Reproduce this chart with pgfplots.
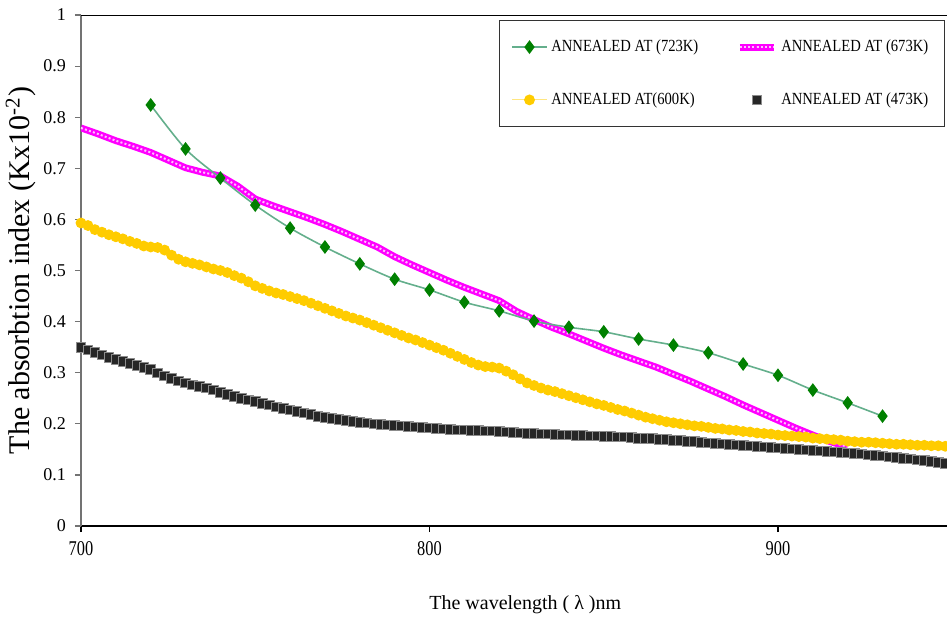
\documentclass[border=0pt]{standalone}
\usepackage{fontspec}
\setmainfont{Liberation Serif}
\usepackage{graphicx}
\usepackage{pgfplots}
\pgfplotsset{compat=1.18}
\usepackage{pgfplotstable}
\definecolor{gold}{RGB}{255,204,0}
\definecolor{dgreen}{RGB}{0,128,0}
\definecolor{lgreen}{RGB}{100,175,140}
\definecolor{mag}{RGB}{255,0,255}
\newcommand{\leg}[1]{\scalebox{0.86}[1]{#1}}

\pgfplotstableread{
x y
720 0.824
730 0.738
740 0.681
750 0.628
760 0.583
770 0.546
780 0.513
790 0.483
800 0.462
810 0.438
820 0.421
830 0.401
840 0.389
850 0.380
860 0.366
870 0.354
880 0.339
890 0.317
900 0.295
910 0.266
920 0.241
930 0.215
}\greendata

\pgfplotstableread{
x y
700 0.779
705 0.767
710 0.754
715 0.743
720 0.731
725 0.716
730 0.701
735 0.692
740 0.685
745 0.665
750 0.640
755 0.627
760 0.615
765 0.603
770 0.590
775 0.576
780 0.561
785 0.546
790 0.527
795 0.511
800 0.496
805 0.481
810 0.467
815 0.454
820 0.441
825 0.420
830 0.404
835 0.389
840 0.376
845 0.362
850 0.348
855 0.335
860 0.323
865 0.311
870 0.297
875 0.283
880 0.268
885 0.253
890 0.237
895 0.222
900 0.207
905 0.192
910 0.178
915 0.165
920 0.155
}\magdata

\pgfplotstableread{
x y
700 0.593
702 0.588
704 0.580
706 0.575
708 0.570
710 0.566
712 0.562
714 0.557
716 0.553
718 0.548
720 0.546
722 0.545
724 0.540
726 0.530
728 0.522
730 0.517
732 0.514
734 0.511
736 0.507
738 0.503
740 0.500
742 0.496
744 0.490
746 0.485
748 0.478
750 0.470
752 0.465
754 0.460
756 0.456
758 0.453
760 0.449
762 0.445
764 0.441
766 0.436
768 0.431
770 0.426
772 0.421
774 0.416
776 0.411
778 0.407
780 0.403
782 0.398
784 0.393
786 0.388
788 0.383
790 0.378
792 0.373
794 0.368
796 0.364
798 0.359
800 0.354
802 0.349
804 0.344
806 0.338
808 0.332
810 0.326
812 0.320
814 0.315
816 0.312
818 0.311
820 0.309
822 0.303
824 0.296
826 0.288
828 0.280
830 0.275
832 0.270
834 0.266
836 0.263
838 0.259
840 0.255
842 0.251
844 0.247
846 0.243
848 0.239
850 0.236
852 0.232
854 0.228
856 0.225
858 0.221
860 0.217
862 0.213
864 0.210
866 0.207
868 0.204
870 0.202
872 0.200
874 0.198
876 0.196
878 0.195
880 0.193
882 0.191
884 0.190
886 0.188
888 0.187
890 0.185
892 0.184
894 0.182
896 0.181
898 0.180
900 0.178
902 0.177
904 0.176
906 0.175
908 0.174
910 0.172
912 0.171
914 0.170
916 0.169
918 0.168
920 0.166
922 0.165
924 0.164
926 0.164
928 0.163
930 0.162
932 0.161
934 0.160
936 0.160
938 0.159
940 0.158
942 0.158
944 0.157
946 0.157
948 0.156
950 0.155
}\yellowdata

\pgfplotstableread{
x y
700 0.350
702 0.345
704 0.340
706 0.335
708 0.330
710 0.326
712 0.322
714 0.318
716 0.314
718 0.310
720 0.306
722 0.300
724 0.294
726 0.289
728 0.284
730 0.280
732 0.276
734 0.273
736 0.270
738 0.266
740 0.262
742 0.258
744 0.254
746 0.250
748 0.247
750 0.244
752 0.240
754 0.237
756 0.233
758 0.230
760 0.227
762 0.224
764 0.221
766 0.218
768 0.215
770 0.213
772 0.211
774 0.209
776 0.207
778 0.205
780 0.203
782 0.202
784 0.200
786 0.199
788 0.198
790 0.197
792 0.196
794 0.195
796 0.194
798 0.193
800 0.192
802 0.191
804 0.190
806 0.189
808 0.188
810 0.188
812 0.187
814 0.187
816 0.186
818 0.186
820 0.185
822 0.184
824 0.183
826 0.182
828 0.181
830 0.181
832 0.180
834 0.180
836 0.179
838 0.178
840 0.178
842 0.177
844 0.177
846 0.176
848 0.176
850 0.175
852 0.175
854 0.174
856 0.174
858 0.173
860 0.172
862 0.172
864 0.171
866 0.170
868 0.169
870 0.168
872 0.167
874 0.166
876 0.165
878 0.164
880 0.163
882 0.162
884 0.161
886 0.160
888 0.159
890 0.158
892 0.157
894 0.156
896 0.155
898 0.154
900 0.153
902 0.152
904 0.151
906 0.150
908 0.149
910 0.148
912 0.147
914 0.146
916 0.145
918 0.144
920 0.143
922 0.142
924 0.141
926 0.139
928 0.138
930 0.137
932 0.135
934 0.134
936 0.132
938 0.131
940 0.129
942 0.128
944 0.126
946 0.125
948 0.123
950 0.121
}\blackdata

\begin{document}
\begin{tikzpicture}
\begin{axis}[
  scale only axis,
  width=433pt, height=255.5pt,
  xmin=700, xmax=948.5, ymin=0, ymax=1,
  axis x line=bottom, axis y line=left,
  x axis line style={-, black, line width=0.8pt},
  y axis line style={-, black!55, line width=0.8pt},
  xtick={700,800,900},
  ytick={0,0.1,0.2,0.3,0.4,0.5,0.6,0.7,0.8,0.9,1},
  tick align=outside,
  major tick length=3pt,
  x tick style={black, line width=0.6pt},
  y tick style={black!55, line width=0.6pt},
  /pgf/number format/assume math mode=true,
  tick label style={font=\fontsize{9}{10}\selectfont},
  xticklabel style={anchor=center, yshift=-8.5pt, font=\fontsize{10.5}{12}\selectfont},
  xticklabel={\scalebox{0.78}[1]{\pgfmathprintnumber{\tick}}},
  yticklabel style={anchor=east, xshift=-1pt},
  xlabel={The wavelength ( λ )nm},
  ylabel={The absorbtion index (Kx10\textsuperscript{-2})},
  xlabel style={at={(axis description cs:0.513,-0.1546)}, anchor=center, font=\fontsize{10}{12}\selectfont},
  ylabel style={at={(axis description cs:-0.0693,0.5)}, anchor=center, font=\fontsize{15}{17}\selectfont},
  clip=true,
  reverse legend,
  legend columns=2,
  legend cell align=left,
  legend style={at={(axis description cs:1,1)}, anchor=north east,
    xshift=-1pt, yshift=-2.5pt,
    draw=black!80, line width=0.7pt,
    font=\fontsize{8.5}{10}\selectfont,
    inner xsep=6pt, inner ysep=7.5pt,
    row sep=15pt,
    /tikz/every even column/.append style={column sep=17pt}},
]
\addplot[only marks, mark=square*, mark size=2.4pt,
  mark options={fill=black!85, draw=black!45, line width=0.4pt}] table {\blackdata};
\addlegendentry{\leg{ANNEALED AT (473K)}}
\addplot[color=gold!50!white, line width=0.6pt, mark=*, mark size=2.4pt,
  mark options={fill=gold, draw=gold}] table {\yellowdata};
\addlegendentry{\leg{ANNEALED AT(600K)}}
\addplot[mag, line width=3.4pt,
  postaction={draw=white!75!mag, line width=1pt, dash pattern=on 1pt off 1.1pt}] table {\magdata};
\addlegendentry{\leg{ANNEALED AT (673K)}}
\addplot[lgreen, line width=0.8pt, smooth, mark=diamond*, mark size=2.8pt,
  mark options={fill=dgreen, draw=dgreen, solid}] table {\greendata};
\addlegendentry{\leg{ANNEALED AT (723K)}}
\draw[black, line width=0.6pt] (rel axis cs:0,1) -- (rel axis cs:1,1);
\end{axis}
\pgfresetboundingbox
\path[use as bounding box] ([shift={(-40.5pt,-45.5pt)}]current axis.south west) rectangle ([shift={(0pt,7.5pt)}]current axis.north east);
\end{tikzpicture}
\end{document}
